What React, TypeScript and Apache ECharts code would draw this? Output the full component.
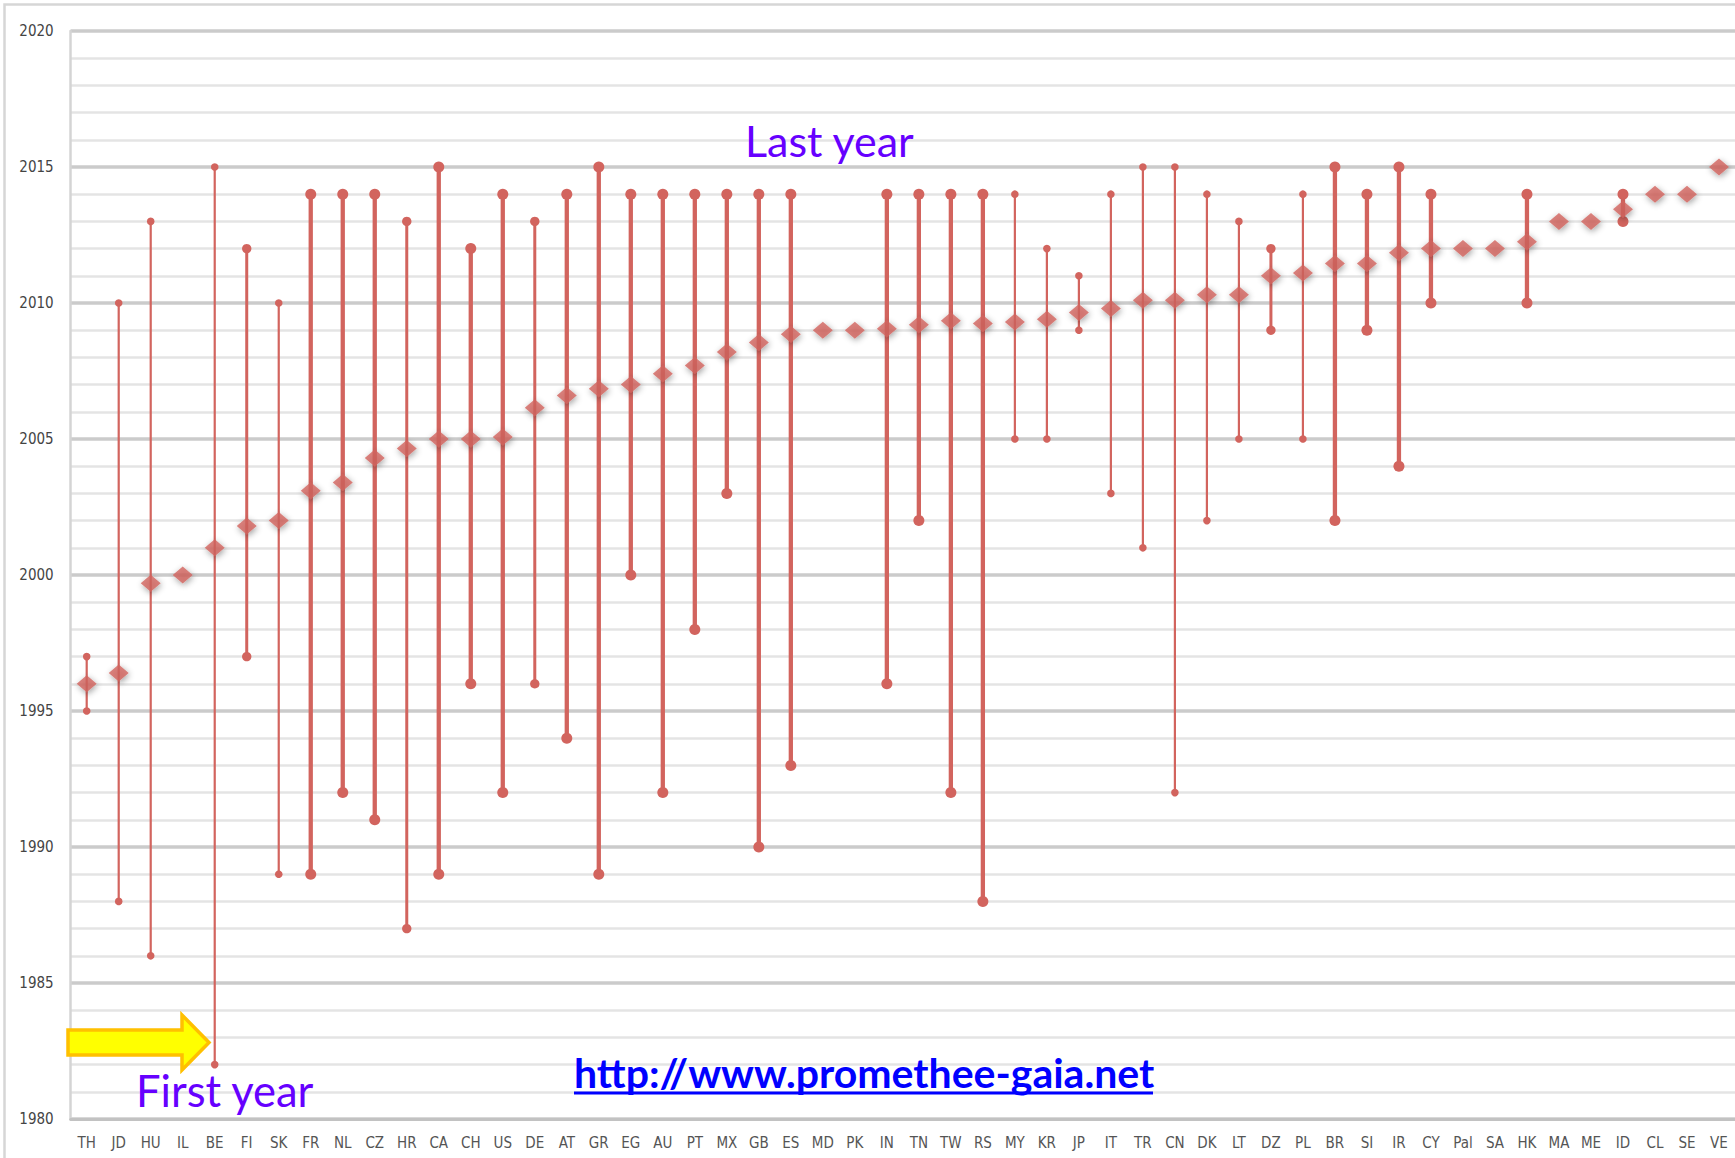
import React, { useEffect, useRef } from "react";
import * as echarts from "echarts";

// ---------- data ----------
const categories = [
  "TH", "JD", "HU", "IL", "BE", "FI", "SK", "FR", "NL", "CZ", "HR", "CA", "CH",
  "US", "DE", "AT", "GR", "EG", "AU", "PT", "MX", "GB", "ES", "MD", "PK", "IN",
  "TN", "TW", "RS", "MY", "KR", "JP", "IT", "TR", "CN", "DK", "LT", "DZ", "PL",
  "BR", "SI", "IR", "CY", "Pal", "SA", "HK", "MA", "ME", "ID", "CL", "SE", "VE",
];

const firstYear: (number | null)[] = [
  1995, 1988, 1986, null, 1982, 1997, 1989, 1989, 1992, 1991, 1987, 1989, 1996,
  1992, 1996, 1994, 1989, 2000, 1992, 1998, 2003, 1990, 1993, null, null, 1996,
  2002, 1992, 1988, 2005, 2005, 2009, 2003, 2001, 1992, 2002, 2005, 2009, 2005,
  2002, 2009, 2004, 2010, null, null, 2010, null, null, 2013, null, null, null,
];

const lastYear: (number | null)[] = [
  1997, 2010, 2013, null, 2015, 2012, 2010, 2014, 2014, 2014, 2013, 2015, 2012,
  2014, 2013, 2014, 2015, 2014, 2014, 2014, 2014, 2014, 2014, null, null, 2014,
  2014, 2014, 2014, 2014, 2012, 2011, 2014, 2015, 2015, 2014, 2013, 2012, 2014,
  2015, 2014, 2015, 2014, null, null, 2014, null, null, 2014, null, null, null,
];

const meanYear: number[] = [
  1996, 1996.4, 1999.7, 2000, 2001, 2001.8, 2002, 2003.1, 2003.4, 2004.3, 2004.65,
  2005, 2005, 2005.07, 2006.15, 2006.6, 2006.85, 2007, 2007.4, 2007.7, 2008.2,
  2008.55, 2008.85, 2009, 2009, 2009.05, 2009.2, 2009.35, 2009.25, 2009.3, 2009.4,
  2009.65, 2009.8, 2010.1, 2010.1, 2010.3, 2010.3, 2011, 2011.1, 2011.45, 2011.45,
  2011.85, 2012, 2012, 2012, 2012.25, 2013, 2013, 2013.45, 2014, 2014, 2015,
];

// weight class of each range line (0 = no range, 1 thin, 2 medium, 3 thick)
const rangeWeight: number[] = [
  1, 1, 1, 0, 1, 2, 1, 3, 3, 3, 2, 3, 3, 3, 2, 3, 3, 3, 3, 3, 3, 3, 3, 0, 0, 3,
  3, 3, 3, 1, 1, 1, 1, 1, 1, 1, 1, 2, 1, 3, 3, 3, 3, 0, 0, 3, 0, 0, 3, 0, 0, 0,
];

const yTicks = { min: 1980, max: 2020, interval: 5 };

// ---------- styles ----------
const RED = "#d2645e";
const LINE_W = [0, 2.2, 3, 4.3];
const DOT_R = [0, 3.8, 4.7, 5.5];
const AXIS_FONT = "'DejaVu Sans Condensed', 'Liberation Sans Narrow', 'DejaVu Sans', sans-serif";
const ANN_FONT = "Lato, 'Open Sans', sans-serif";

export default function App() {
  const ref = useRef<HTMLDivElement>(null);

  useEffect(() => {
    document.body.style.margin = "0";
    if (!ref.current) return;
    const chart = echarts.init(ref.current, undefined, { renderer: "svg" });

    const rangeData = categories
      .map((_, i) => [i, firstYear[i], lastYear[i], rangeWeight[i]])
      .filter((d) => d[1] != null && d[2] != null);

    const meanData = categories.map((_, i) => [i, meanYear[i]]);

    const option: any = {
      animation: false,
      backgroundColor: "#ffffff",
      grid: { left: 70.7, top: 31, width: 52 * 32.04, height: 1088, containLabel: false },
      xAxis: {
        type: "category",
        data: categories,
        boundaryGap: true,
        axisLine: { show: true, lineStyle: { color: "#c2c2c2", width: 3 } },
        axisTick: { show: false },
        axisLabel: {
          interval: 0,
          margin: 16,
          color: "#555555",
          fontSize: 15,
          fontFamily: AXIS_FONT,
        },
        splitLine: { show: false },
      },
      yAxis: {
        type: "value",
        min: yTicks.min,
        max: yTicks.max,
        interval: yTicks.interval,
        axisLine: { show: true, lineStyle: { color: "#d4d4d4", width: 2.5 } },
        axisTick: { show: false },
        axisLabel: {
          margin: 17,
          color: "#444444",
          fontSize: 15,
          fontFamily: AXIS_FONT,
          formatter: (v: number) => String(v),
        },
        splitLine: { show: true, lineStyle: { color: "#cbcbcb", width: 3.5 } },
        minorTick: { show: false, splitNumber: 5 },
        minorSplitLine: { show: true, lineStyle: { color: "#e4e4e4", width: 2.6 } },
      },
      series: [
        {
          type: "custom",
          name: "range",
          data: rangeData,
          encode: { x: 0, y: [1, 2] },
          z: 3,
          renderItem: (params: any, api: any) => {
            const idx = api.value(0);
            const w = api.value(3);
            const p1 = api.coord([idx, api.value(1)]);
            const p2 = api.coord([idx, api.value(2)]);
            const lw = LINE_W[w];
            const r = DOT_R[w];
            return {
              type: "group",
              children: [
                {
                  type: "line",
                  shape: { x1: p1[0], y1: p1[1], x2: p2[0], y2: p2[1] },
                  style: { stroke: RED, lineWidth: lw },
                },
                {
                  type: "circle",
                  shape: { cx: p1[0], cy: p1[1], r },
                  style: { fill: RED },
                },
                {
                  type: "circle",
                  shape: { cx: p2[0], cy: p2[1], r },
                  style: { fill: RED },
                },
              ],
            };
          },
        },
        {
          type: "scatter",
          name: "mean",
          data: meanData,
          symbol: "diamond",
          symbolSize: [20, 17],
          z: 5,
          itemStyle: {
            color: RED,
            shadowBlur: 6,
            shadowColor: "rgba(0,0,0,0.45)",
            shadowOffsetX: 1,
            shadowOffsetY: 2,
          },
        },
      ],
      graphic: [
        {
          type: "rect",
          z: -10,
          silent: true,
          shape: { x: 4.5, y: 4.5, width: 1800, height: 1300 },
          style: { fill: "none", stroke: "#d6d6d6", lineWidth: 2.5 },
        },
        {
          type: "polygon",
          z: 100,
          shape: {
            points: [
              [68, 1030],
              [182, 1030],
              [182, 1015],
              [209, 1042.5],
              [182, 1070],
              [182, 1055],
              [68, 1055],
            ],
          },
          style: { fill: "#ffff00", stroke: "#ffc000", lineWidth: 3.5 },
        },
        {
          type: "text",
          z: 100,
          x: 745,
          y: 140,
          style: {
            text: "Last year",
            fill: "#6600ff",
            font: `43px ${ANN_FONT}`,
            textAlign: "left",
            textVerticalAlign: "middle",
          },
        },
        {
          type: "text",
          z: 100,
          x: 136,
          y: 1090,
          style: {
            text: "First year",
            fill: "#6600ff",
            font: `43.5px ${ANN_FONT}`,
            textAlign: "left",
            textVerticalAlign: "middle",
          },
        },
        {
          type: "text",
          z: 100,
          x: 574,
          y: 1072,
          style: {
            text: "http://www.promethee-gaia.net",
            fill: "#0000ff",
            font: `bold 41px ${ANN_FONT}`,
            textAlign: "left",
            textVerticalAlign: "middle",
          },
        },
        {
          type: "line",
          z: 100,
          shape: { x1: 574, y1: 1093, x2: 1153, y2: 1093 },
          style: { stroke: "#0000ff", lineWidth: 3 },
        },
      ],
    };

    chart.setOption(option);
    return () => chart.dispose();
  }, []);

  return <div ref={ref} style={{ width: 1735, height: 1158 }} />;
}
